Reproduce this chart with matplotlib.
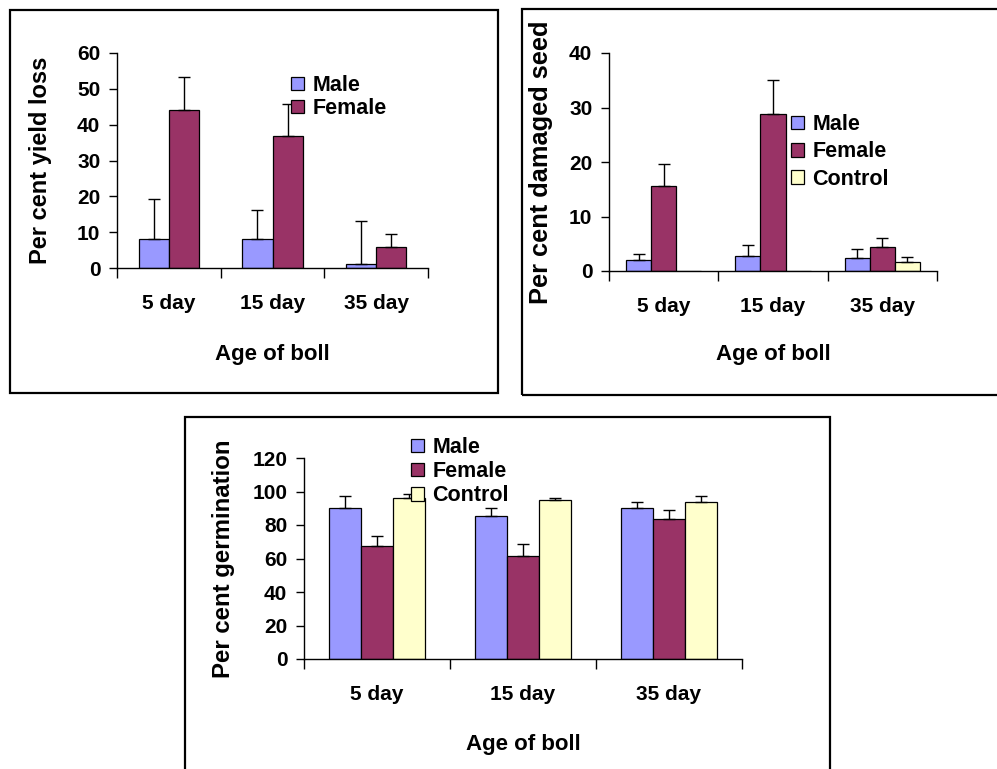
import numpy as np
import matplotlib
matplotlib.use("Agg")
import matplotlib.pyplot as plt
from matplotlib.patches import Rectangle

plt.rcParams['font.family'] = ['Liberation Sans', 'DejaVu Sans']
plt.rcParams['font.weight'] = 'bold'

# categories shared by all three panels
ages = ["5 day", "15 day", "35 day"]
series_names = ["Male", "Female", "Control"]
colours = ["#9999FF", "#993366", "#FFFFCC"]

# panel 1 - yield loss (upper error only)
yield_male = [8.0, 8.0, 1.2]
yield_male_err = [11.3, 8.3, 12.0]
yield_female = [44.2, 36.9, 6.0]
yield_female_err = [9.0, 8.9, 3.6]

# panel 2 - damaged seed
seed_male = [2.0, 2.8, 2.4]
seed_male_err = [1.2, 2.0, 1.6]
seed_female = [15.6, 28.8, 4.4]
seed_female_err = [4.0, 6.3, 1.6]
seed_control = [0.0, 0.0, 1.6]
seed_control_err = [0.0, 0.0, 0.9]

# panel 3 - germination
germ_male = [90.3, 85.5, 90.3]
germ_male_err = [7.1, 4.8, 3.5]
germ_female = [67.7, 61.7, 83.3]
germ_female_err = [5.9, 7.1, 5.8]
germ_control = [96.2, 95.0, 93.8]
germ_control_err = [2.6, 1.2, 3.6]

W, H = 997, 769
fig = plt.figure(figsize=(W / 100, H / 100), dpi=100)


def px_axes(x0, x1, ytop, ybot):
    return fig.add_axes([x0 / W, 1 - ybot / H, (x1 - x0) / W, (ybot - ytop) / H])


def frame(x0, y0, x1, y1):
    fig.patches.append(Rectangle((x0 / W, 1 - y1 / H), (x1 - x0) / W, (y1 - y0) / H,
                                 transform=fig.transFigure, fill=False,
                                 edgecolor='black', linewidth=1.6))


def panel(ax, values, errors, width, ymax, ystep, ylabel, ylab_size, ylab_x,
          xlab_y, legend_at, spacing):
    n = len(values)
    x = np.arange(len(ages)) + 0.5
    offsets = (np.arange(n) - (n - 1) / 2) * width
    handles = []
    for i in range(n):
        v = np.array(values[i])
        e = np.array(errors[i])
        b = ax.bar(x + offsets[i], v, width, color=colours[i], edgecolor='black',
                   linewidth=0.9, zorder=2)
        handles.append(b)
        m = e > 0
        ax.errorbar((x + offsets[i])[m], v[m], yerr=[np.zeros(m.sum()), e[m]],
                    fmt='none', ecolor='black', elinewidth=1.0, capsize=4.5,
                    capthick=1.0, zorder=3)
    ax.set_xlim(0, len(ages))
    ax.set_ylim(0, ymax)
    ax.set_yticks(np.arange(0, ymax + 0.1, ystep))
    ax.set_xticks(np.arange(len(ages) + 1))
    ax.set_xticklabels([])
    ax.set_xticks(x, minor=True)
    ax.set_xticklabels(ages, minor=True, fontsize=15, fontweight='bold')
    ax.tick_params(axis='x', which='major', direction='out', length=7, width=1)
    ax.tick_params(axis='x', which='minor', length=0, pad=19)
    ax.tick_params(axis='y', direction='out', length=6, width=1, pad=6, labelsize=15)
    for t in ax.get_yticklabels():
        t.set_fontweight('bold')
    for s in ['top', 'right']:
        ax.spines[s].set_visible(False)
    for s in ['left', 'bottom']:
        ax.spines[s].set_linewidth(1.0)
    ax.set_ylabel(ylabel, fontsize=ylab_size, fontweight='bold')
    ax.yaxis.set_label_coords(ylab_x, 0.5)
    ax.set_xlabel("Age of boll", fontsize=16, fontweight='bold')
    ax.xaxis.set_label_coords(0.5, xlab_y)
    ax.legend(handles, series_names[:n], loc='upper left',
              bbox_to_anchor=(legend_at[0] / W, 1 - legend_at[1] / H),
              bbox_transform=fig.transFigure, frameon=False, borderpad=0,
              borderaxespad=0, handlelength=0.6, handleheight=0.6,
              handletextpad=0.4, labelspacing=spacing,
              prop={'size': 15.5, 'weight': 'bold'})


frame(10, 10, 498, 393)
frame(522, 9, 1005, 395)
frame(185, 417, 830, 780)

ax1 = px_axes(117, 428, 53, 268)
panel(ax1, [yield_male, yield_female], [yield_male_err, yield_female_err],
      0.29, 60, 10, "Per cent yield loss", 17, -0.21, -0.355, (291, 75), 0.1)

ax2 = px_axes(609, 937, 53, 271)
panel(ax2, [seed_male, seed_female, seed_control],
      [seed_male_err, seed_female_err, seed_control_err],
      0.23, 40, 10, "Per cent damaged seed", 18.3, -0.17, -0.335, (791, 114), 0.3)

ax3 = px_axes(304, 742, 458, 659)
panel(ax3, [germ_male, germ_female, germ_control],
      [germ_male_err, germ_female_err, germ_control_err],
      0.22, 120, 20, "Per cent germination", 17.3, -0.158, -0.375, (411, 437), 0.15)

fig.savefig("out.png", dpi=100)
